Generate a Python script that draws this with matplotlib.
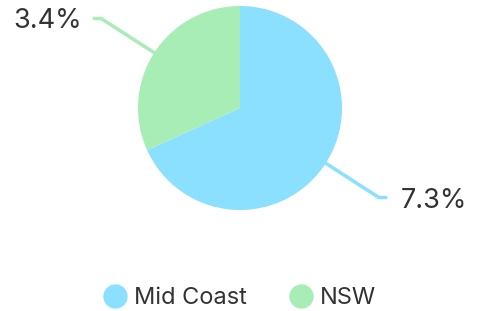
import matplotlib.pyplot as plt
from matplotlib.lines import Line2D
import numpy as np

plt.rcParams['font.family'] = ['Inter', 'DejaVu Sans']

regions = ['Mid Coast', 'NSW']
values = [7.3, 3.4]
labels = ['7.3%', '3.4%']
colors = ['#8BDFFF', '#A8ECB6']
text_color = '#333333'

fig = plt.figure(figsize=(4.8, 3.11), dpi=100)
ax = fig.add_axes([0, 0, 1, 1])

cx, cy, r = 240, 203, 102
wedges, _ = ax.pie(values, colors=colors, startangle=90, counterclock=False,
                   center=(cx, cy), radius=r, frame=True,
                   wedgeprops=dict(linewidth=0))
ax.set_xlim(0, 480)
ax.set_ylim(0, 311)
ax.axis('off')

for w, lab, col in zip(wedges, labels, colors):
    mid = np.deg2rad((w.theta1 + w.theta2) / 2)
    x0, y0 = cx + r * np.cos(mid), cy + r * np.sin(mid)
    x1, y1 = cx + 1.62 * r * np.cos(mid), cy + 1.62 * r * np.sin(mid)
    side = 1 if np.cos(mid) > 0 else -1
    x2 = x1 + side * 7
    ax.plot([x0, x1, x2], [y0, y1, y1], color=col, lw=2.5, solid_joinstyle='round',
            solid_capstyle='round')
    gap = 15 if side > 0 else 12
    ax.text(x2 + side * gap, y1 - 3, lab, ha='left' if side > 0 else 'right',
            va='center', fontsize=19.5, color=text_color)

handles = [Line2D([], [], marker='o', linestyle='none', markersize=17.5,
                  markerfacecolor=c, markeredgewidth=0) for c in colors]
leg = ax.legend(handles, regions, loc='lower center', bbox_to_anchor=(0.5, -0.062),
                ncol=2, frameon=False, fontsize=17, handletextpad=0.3,
                columnspacing=1.8, handlelength=1.0)
for t in leg.get_texts():
    t.set_color(text_color)

fig.savefig('out.png', dpi=100)
